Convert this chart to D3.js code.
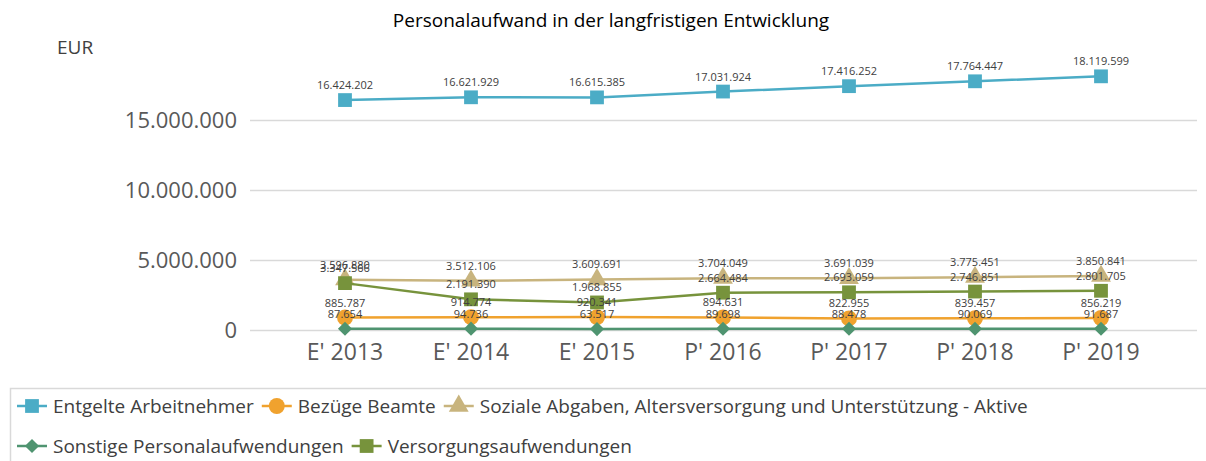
<!DOCTYPE html>
<html>
<head>
<meta charset="utf-8">
<script src="https://cdn.jsdelivr.net/npm/d3@7"></script>
<style>
  body { margin: 0; background: #fff; }
  text { font-family: "Open Sans", "Noto Sans", sans-serif; }
</style>
</head>
<body>
<div id="chart"></div>
<script>
// datos
const years = ["E' 2013", "E' 2014", "E' 2015", "P' 2016", "P' 2017", "P' 2018", "P' 2019"]
const entgelte = [16424202, 16621929, 16615385, 17031924, 17416252, 17764447, 18119599]
const bezuege = [885787, 914774, 920341, 894631, 822955, 839457, 856219]
const soziale = [3596880, 3512106, 3609691, 3704049, 3691039, 3775451, 3850841]
const sonstige = [87654, 94736, 63517, 89698, 88478, 90069, 91687]
const versorgung = [3347566, 2191390, 1968855, 2664484, 2693059, 2746851, 2801705]
const yTicks = [0, 5000000, 10000000, 15000000]

const series = [
  {name: "Entgelte Arbeitnehmer", values: entgelte, color: "#4bacc6", shape: "square"},
  {name: "Bezüge Beamte", values: bezuege, color: "#f0a22e", shape: "circle"},
  {name: "Soziale Abgaben, Altersversorgung und Unterstützung - Aktive", values: soziale, color: "#c8b47e", shape: "triangle"},
  {name: "Sonstige Personalaufwendungen", values: sonstige, color: "#4f9470", shape: "diamond"},
  {name: "Versorgungsaufwendungen", values: versorgung, color: "#77933c", shape: "square"}
]

const width = 1206
const height = 461
const margin = {top: 50, right: 9, left: 250, bottom: 131}

const fmt = d3.formatLocale({decimal: ",", thousands: ".", grouping: [3], currency: ["", " €"]}).format(",d")

const svg = d3.select("div#chart").append("svg").attr("width", width).attr("height", height)

// escalas
const x = d3.scaleBand().domain(years).range([282, 1164])
const y = d3.scaleLinear().domain([0, 20000000]).range([height - margin.bottom, margin.top])
const cx = d => x(d) + x.bandwidth() / 2

// titulo
svg.append("text").attr("x", 611).attr("y", 27).attr("text-anchor", "middle")
  .style("font-size", "19px").attr("fill", "#000").text("Personalaufwand in der langfristigen Entwicklung")
svg.append("text").attr("x", 57).attr("y", 54)
  .style("font-size", "19px").attr("fill", "#404040").text("EUR")

// ejes
const yAxis = d3.axisLeft(y).tickValues(yTicks).tickFormat(fmt).tickSize(-(width - margin.right - margin.left)).tickPadding(13)
const yAxisGroup = svg.append("g").attr("transform", `translate(${margin.left},0)`).call(yAxis)
yAxisGroup.select(".domain").remove()
yAxisGroup.selectAll(".tick line").attr("stroke", "#d9d9d9").attr("stroke-width", 1.5)
yAxisGroup.selectAll(".tick text").style("font-size", "22px").attr("fill", "#595959")

const xAxis = d3.axisBottom(x).tickSize(0).tickPadding(14)
const xAxisGroup = svg.append("g").attr("transform", `translate(0,${y(0)})`).call(xAxis)
xAxisGroup.select(".domain").remove()
xAxisGroup.selectAll(".tick text").style("font-size", "23px").attr("fill", "#595959")

// simbolos
const diamondType = {
  draw(context, size) {
    const r = Math.sqrt(size / 2)
    context.moveTo(0, -r)
    context.lineTo(r, 0)
    context.lineTo(0, r)
    context.lineTo(-r, 0)
    context.closePath()
  }
}
const symbolOf = {
  square: d3.symbol().type(d3.symbolSquare).size(190),
  circle: d3.symbol().type(d3.symbolCircle).size(200),
  triangle: d3.symbol().type(d3.symbolTriangle).size(170),
  diamond: d3.symbol().type(diamondType).size(100)
}

const line = d3.line().x(d => cx(d.year)).y(d => y(d.value))

series.forEach(s => {
  const pts = years.map((yr, i) => ({year: yr, value: s.values[i]}))
  const g = svg.append("g")
  g.append("path").datum(pts).attr("d", line).attr("fill", "none")
    .attr("stroke", s.color).attr("stroke-width", 2.5)
  g.selectAll("path.mk").data(pts).enter().append("path").attr("class", "mk")
    .attr("d", symbolOf[s.shape]).attr("fill", s.color)
    .attr("transform", d => `translate(${cx(d.year)},${y(d.value)})`)
})

// etiquetas
series.forEach(s => {
  svg.append("g").selectAll("text").data(years).enter().append("text")
    .attr("x", d => cx(d)).attr("y", (d, i) => y(s.values[i]) - 11)
    .attr("text-anchor", "middle").style("font-size", "11px").attr("fill", "#404040")
    .text((d, i) => fmt(s.values[i]))
})

// leyenda
svg.append("rect").attr("x", 10.5).attr("y", 388.5).attr("width", 1210).attr("height", 90)
  .attr("fill", "none").attr("stroke", "#d9d9d9").attr("stroke-width", 1.5)

const rows = [[0, 1, 2], [3, 4]]
rows.forEach((row, r) => {
  let lx = 17
  const ly = 406 + r * 40
  row.forEach(idx => {
    const s = series[idx]
    const lg = svg.append("g")
    lg.append("line").attr("x1", lx).attr("x2", lx + 30).attr("y1", ly).attr("y2", ly)
      .attr("stroke", s.color).attr("stroke-width", 2.5)
    lg.append("path").attr("d", symbolOf[s.shape]).attr("fill", s.color)
      .attr("transform", `translate(${lx + 15},${ly})`)
    const t = lg.append("text").attr("x", lx + 36).attr("y", ly + 7)
      .style("font-size", "19px").attr("fill", "#404040").text(s.name)
    lx += 36 + t.node().getComputedTextLength() + 8
  })
})
</script>
</body>
</html>
